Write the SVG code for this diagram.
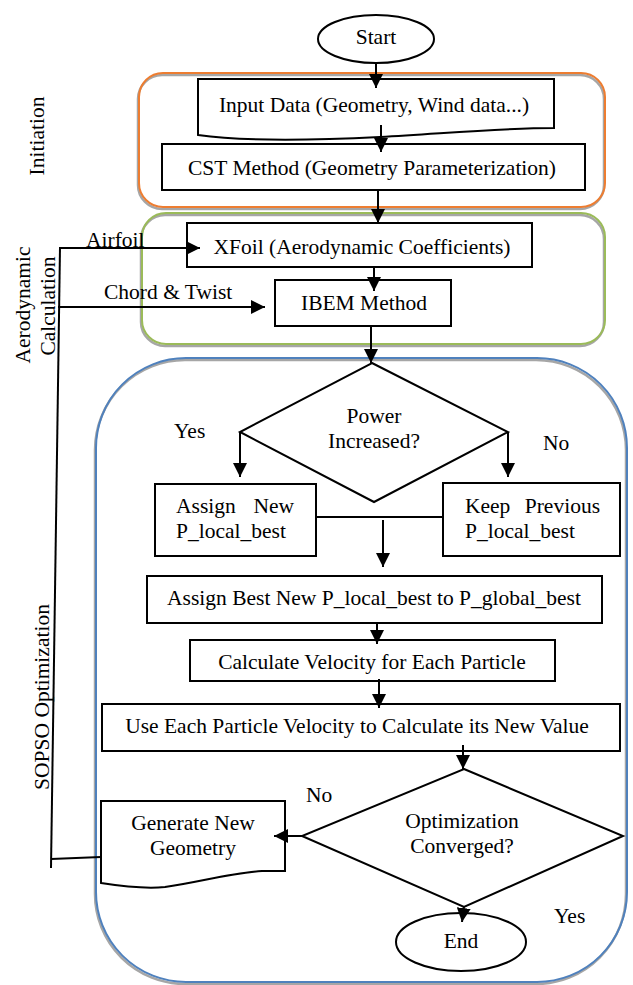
<svg xmlns="http://www.w3.org/2000/svg" width="633" height="985" viewBox="0 0 633 985">
<defs>
<marker id="ah" markerUnits="userSpaceOnUse" markerWidth="14" markerHeight="14" refX="14" refY="7" orient="auto">
<path d="M0,0 L14,7 L0,14 Z" fill="#000"/>
</marker>
<style>
text{font-family:"Liberation Serif","Times New Roman",serif;font-size:21.5px;fill:#000}
.c{text-anchor:middle}
.e{text-anchor:end}
.box{fill:#fff;stroke:#000;stroke-width:2}
.reg{fill:none;stroke-width:2}
.sh{fill:none;stroke:#a6a6a6;stroke-width:2.5}
.ln{fill:none;stroke:#000;stroke-width:2}
.ar{fill:none;stroke:#000;stroke-width:2;marker-end:url(#ah)}
</style>
</defs>
<rect width="633" height="985" fill="#fff"/>

<g id="region-initiation">
<rect class="sh" x="138" y="75" width="466" height="134" rx="24"/>
<rect class="reg" x="139" y="73" width="466" height="134" rx="24" stroke="#ED7D31"/>
<text transform="translate(44,136) rotate(-90)" class="c">Initiation</text>
</g>
<g id="region-aero">
<rect class="sh" x="141" y="215" width="463" height="131" rx="24"/>
<rect class="reg" x="142" y="213" width="463" height="131" rx="24" stroke="#9BBB59"/>
<text transform="translate(30,305) rotate(-90)" class="c">Aerodynamic</text>
<text transform="translate(55,306) rotate(-90)" class="c">Calculation</text>
</g>
<g id="region-sopso">
<rect class="sh" x="95" y="360" width="531" height="624" rx="90"/>
<rect class="reg" x="96" y="358" width="531" height="624" rx="90" stroke="#4F81BD"/>
<text transform="translate(49,697) rotate(-90)" class="c">SOPSO Optimization</text>
</g>

<g id="start">
<ellipse class="box" cx="376" cy="39" rx="58" ry="24"/>
<text x="376" y="44" class="c">Start</text>
</g>
<g id="input-data">
<path class="box" d="M198,79 H554 V128 C500,128 450,133 380,137 C300,141 240,141 198,135 Z"/>
<text x="374" y="112" class="c">Input Data (Geometry, Wind data...)</text>
</g>
<g id="cst">
<rect class="box" x="162" y="144" width="423" height="46"/>
<text x="372" y="175" class="c">CST Method (Geometry Parameterization)</text>
</g>
<g id="xfoil">
<rect class="box" x="187" y="223" width="345" height="44"/>
<text x="362" y="254" class="c">XFoil (Aerodynamic Coefficients)</text>
</g>
<g id="ibem">
<rect class="box" x="275" y="280" width="176" height="46"/>
<text x="364" y="310" class="c">IBEM Method</text>
</g>
<g id="power">
<polygon class="box" points="372,363 508,432 374,502 240,432"/>
<text x="374" y="423" class="c">Power</text>
<text x="374" y="448" class="c">Increased?</text>
</g>
<g id="assign-new">
<rect class="box" x="155" y="484" width="161" height="72"/>
<text x="176" y="513">Assign</text>
<text x="294" y="513" class="e">New</text>
<text x="176" y="538">P_local_best</text>
</g>
<g id="keep-previous">
<rect class="box" x="443" y="483" width="177" height="73"/>
<text x="465" y="513">Keep</text>
<text x="600" y="513" class="e">Previous</text>
<text x="465" y="538">P_local_best</text>
</g>
<g id="assign-best">
<rect class="box" x="147" y="576" width="455" height="47"/>
<text x="374" y="605" class="c">Assign Best New P_local_best to P_global_best</text>
</g>
<g id="velocity">
<rect class="box" x="190" y="640" width="365" height="41"/>
<text x="372" y="669" class="c">Calculate Velocity for Each Particle</text>
</g>
<g id="new-value">
<rect class="box" x="102" y="704" width="518" height="47"/>
<text x="357" y="733" class="c">Use Each Particle Velocity to Calculate its New Value</text>
</g>
<g id="converged">
<polygon class="box" points="464,769 623,836 464,907 302,836"/>
<text x="462" y="828" class="c">Optimization</text>
<text x="462" y="853" class="c">Converged?</text>
</g>
<g id="generate">
<path class="box" d="M101,801 H285 V871 H262 C230,873 200,882 165,887 C145,889 120,886 101,883 Z"/>
<text x="193" y="830" class="c">Generate New</text>
<text x="193" y="855" class="c">Geometry</text>
</g>
<g id="end">
<ellipse class="box" cx="461" cy="942" rx="65" ry="29"/>
<text x="461" y="948" class="c">End</text>
</g>

<g id="connectors">
<line class="ar" x1="376" y1="63" x2="376" y2="88"/>
<line class="ar" x1="381" y1="125" x2="381" y2="152"/>
<line class="ar" x1="378" y1="190" x2="378" y2="223"/>
<line class="ar" x1="374" y1="267" x2="374" y2="291"/>
<line class="ar" x1="371" y1="326" x2="371" y2="363"/>
<line class="ar" x1="240" y1="432" x2="240" y2="477"/>
<line class="ar" x1="508" y1="432" x2="508" y2="477"/>
<line class="ln" x1="316" y1="517" x2="443" y2="517"/>
<line class="ar" x1="383" y1="520" x2="383" y2="567"/>
<line class="ar" x1="377" y1="623" x2="377" y2="644"/>
<line class="ar" x1="379" y1="679" x2="379" y2="708"/>
<line class="ar" x1="463" y1="745" x2="463" y2="769"/>
<line class="ar" x1="302" y1="836" x2="274" y2="836"/>
<line class="ar" x1="464" y1="906" x2="462" y2="922"/>
<polyline class="ln" points="101,857 51,859"/>
<line class="ln" x1="51" y1="868" x2="60" y2="247"/>
<line class="ar" x1="59" y1="248" x2="200" y2="248"/>
<line class="ar" x1="58" y1="307" x2="265" y2="307"/>
<text x="86" y="247">Airfoil</text>
<text x="104" y="299">Chord &amp; Twist</text>
<text x="174" y="438">Yes</text>
<text x="543" y="450">No</text>
<text x="306" y="802">No</text>
<text x="554" y="923">Yes</text>
</g>
</svg>
